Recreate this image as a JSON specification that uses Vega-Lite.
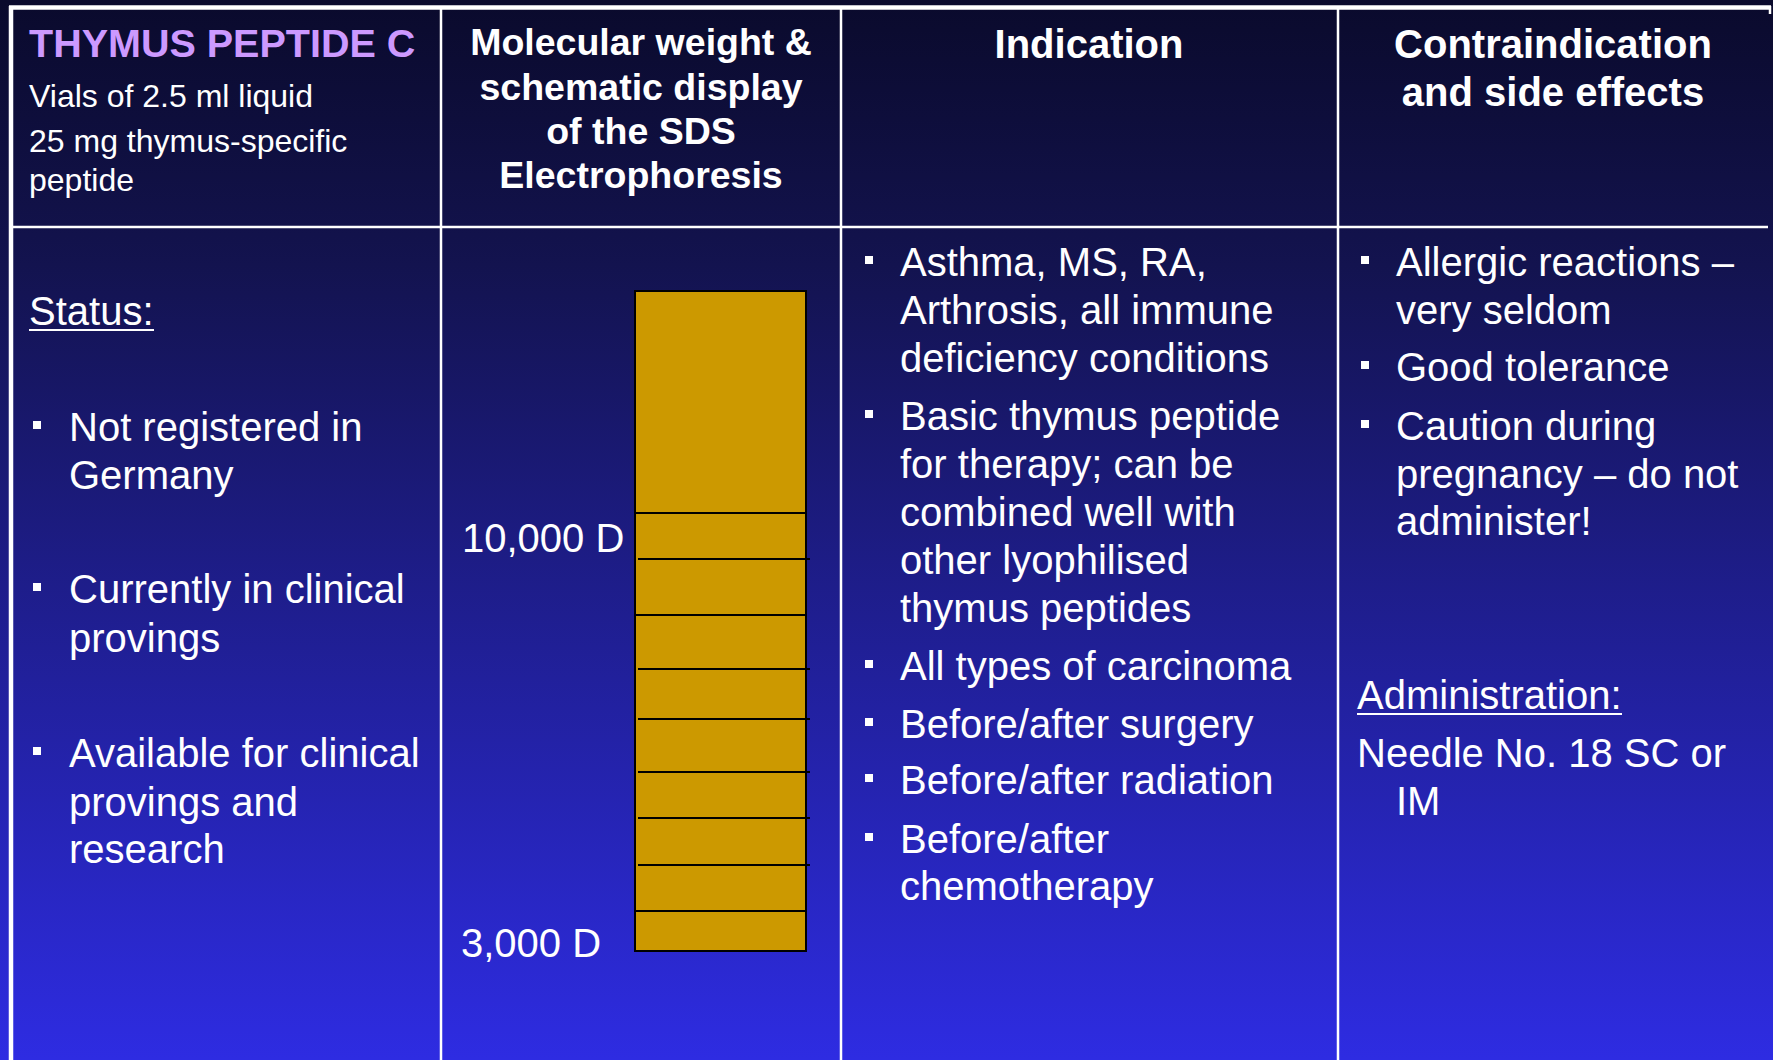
{
  "$schema": "https://vega.github.io/schema/vega-lite/v6.json",
  "width": 1773,
  "height": 1060,
  "padding": 0,
  "autosize": {"type": "none"},
  "background": "#0a0a2c",
  "config": {"view": {"stroke": null}, "text": {"font": "Liberation Sans"}},
  "datasets": {
    "bg": [{"x": 0, "x2": 1773, "y": 0, "y2": 1060}],
    "thick": [
      {"x": 9, "x2": 1771, "y": 7.5, "y2": 7.5},
      {"x": 11, "x2": 11, "y": 6, "y2": 1060}
    ],
    "grid": [
      {"x": 11, "x2": 1768, "y": 227, "y2": 227},
      {"x": 441, "x2": 441, "y": 9, "y2": 1060},
      {"x": 841, "x2": 841, "y": 9, "y2": 1060},
      {"x": 1338, "x2": 1338, "y": 9, "y2": 1060},
      {"x": 1770, "x2": 1770, "y": 6, "y2": 14}
    ],
    "gel": [{"x": 635, "x2": 806, "y": 291, "y2": 951}],
    "bands": [
      {"x": 635, "x2": 806, "y": 513},
      {"x": 638, "x2": 810, "y": 559},
      {"x": 635, "x2": 806, "y": 615},
      {"x": 638, "x2": 810, "y": 669},
      {"x": 638, "x2": 810, "y": 719},
      {"x": 638, "x2": 810, "y": 772},
      {"x": 638, "x2": 810, "y": 818},
      {"x": 638, "x2": 810, "y": 865},
      {"x": 635, "x2": 806, "y": 911}
    ],
    "header2": [
      {"x": 641, "y": 44, "text": "Molecular weight &"},
      {"x": 641, "y": 89, "text": "schematic display"},
      {"x": 641, "y": 133, "text": "of the SDS"},
      {"x": 641, "y": 177, "text": "Electrophoresis"}
    ],
    "header": [
      {"x": 1089, "y": 46, "text": "Indication"},
      {"x": 1553, "y": 46, "text": "Contraindication"},
      {"x": 1553, "y": 94, "text": "and side effects"}
    ],
    "title": [{"x": 29, "y": 45, "text": "THYMUS PEPTIDE C"}],
    "sub": [
      {"x": 29, "y": 97, "text": "Vials of 2.5 ml liquid"},
      {"x": 29, "y": 142, "text": "25 mg thymus-specific"},
      {"x": 29, "y": 181, "text": "peptide"}
    ],
    "body": [
      {"x": 29, "y": 313, "text": "Status:"},
      {"x": 69, "y": 429, "text": "Not registered in"},
      {"x": 69, "y": 477, "text": "Germany"},
      {"x": 69, "y": 591, "text": "Currently in clinical"},
      {"x": 69, "y": 640, "text": "provings"},
      {"x": 69, "y": 755, "text": "Available for clinical"},
      {"x": 69, "y": 804, "text": "provings and"},
      {"x": 69, "y": 851, "text": "research"},
      {"x": 462, "y": 540, "text": "10,000 D"},
      {"x": 461, "y": 945, "text": "3,000 D"},
      {"x": 900, "y": 264, "text": "Asthma, MS, RA,"},
      {"x": 900, "y": 312, "text": "Arthrosis, all immune"},
      {"x": 900, "y": 360, "text": "deficiency conditions"},
      {"x": 900, "y": 418, "text": "Basic thymus peptide"},
      {"x": 900, "y": 466, "text": "for therapy; can be"},
      {"x": 900, "y": 514, "text": "combined well with"},
      {"x": 900, "y": 562, "text": "other lyophilised"},
      {"x": 900, "y": 610, "text": "thymus peptides"},
      {"x": 900, "y": 668, "text": "All types of carcinoma"},
      {"x": 900, "y": 726, "text": "Before/after surgery"},
      {"x": 900, "y": 782, "text": "Before/after radiation"},
      {"x": 900, "y": 841, "text": "Before/after"},
      {"x": 900, "y": 888, "text": "chemotherapy"},
      {"x": 1396, "y": 264, "text": "Allergic reactions –"},
      {"x": 1396, "y": 312, "text": "very seldom"},
      {"x": 1396, "y": 369, "text": "Good tolerance"},
      {"x": 1396, "y": 428, "text": "Caution during"},
      {"x": 1396, "y": 476, "text": "pregnancy – do not"},
      {"x": 1396, "y": 523, "text": "administer!"},
      {"x": 1357, "y": 697, "text": "Administration:"},
      {"x": 1357, "y": 755, "text": "Needle No. 18 SC or"},
      {"x": 1396, "y": 803, "text": "IM"}
    ],
    "bullets": [
      {"x": 37, "y": 425}, {"x": 37, "y": 587}, {"x": 37, "y": 751},
      {"x": 869, "y": 260}, {"x": 869, "y": 414}, {"x": 869, "y": 664},
      {"x": 869, "y": 722}, {"x": 869, "y": 778}, {"x": 869, "y": 837},
      {"x": 1365, "y": 260}, {"x": 1365, "y": 365}, {"x": 1365, "y": 424}
    ],
    "underline": [
      {"x": 29, "x2": 154, "y": 330},
      {"x": 1357, "x2": 1622, "y": 714}
    ]
  },
  "encoding": {
    "x": {"field": "x", "type": "quantitative", "scale": {"domain": [0, 1773], "nice": false, "zero": false}, "axis": null},
    "y": {"field": "y", "type": "quantitative", "scale": {"domain": [0, 1060], "nice": false, "zero": false, "reverse": true}, "axis": null}
  },
  "layer": [
    {
      "data": {"name": "bg"},
      "mark": {"type": "rect", "fill": {"gradient": "linear", "x1": 0, "y1": 0, "x2": 0, "y2": 1, "stops": [{"offset": 0, "color": "#0a0a2c"}, {"offset": 0.25, "color": "#13134f"}, {"offset": 1, "color": "#2e2ce2"}]}},
      "encoding": {"x2": {"field": "x2"}, "y2": {"field": "y2"}}
    },
    {
      "data": {"name": "thick"},
      "mark": {"type": "rule", "color": "white", "strokeWidth": 4.5},
      "encoding": {"x2": {"field": "x2"}, "y2": {"field": "y2"}}
    },
    {
      "data": {"name": "grid"},
      "mark": {"type": "rule", "color": "white", "strokeWidth": 2.5},
      "encoding": {"x2": {"field": "x2"}, "y2": {"field": "y2"}}
    },
    {
      "data": {"name": "gel"},
      "mark": {"type": "rect", "fill": "#cc9900", "stroke": "black", "strokeWidth": 2},
      "encoding": {"x2": {"field": "x2"}, "y2": {"field": "y2"}}
    },
    {
      "data": {"name": "bands"},
      "mark": {"type": "rule", "color": "black", "strokeWidth": 2},
      "encoding": {"x2": {"field": "x2"}}
    },
    {
      "data": {"name": "header2"},
      "mark": {"type": "text", "color": "white", "fontSize": 37.5, "fontWeight": "bold", "align": "center", "baseline": "middle"},
      "encoding": {"text": {"field": "text"}}
    },
    {
      "data": {"name": "header"},
      "mark": {"type": "text", "color": "white", "fontSize": 40, "fontWeight": "bold", "align": "center", "baseline": "middle"},
      "encoding": {"text": {"field": "text"}}
    },
    {
      "data": {"name": "title"},
      "mark": {"type": "text", "color": "#cc99ff", "fontSize": 39.5, "fontWeight": "bold", "align": "left", "baseline": "middle"},
      "encoding": {"text": {"field": "text"}}
    },
    {
      "data": {"name": "sub"},
      "mark": {"type": "text", "color": "white", "fontSize": 32, "align": "left", "baseline": "middle"},
      "encoding": {"text": {"field": "text"}}
    },
    {
      "data": {"name": "body"},
      "mark": {"type": "text", "color": "white", "fontSize": 40, "align": "left", "baseline": "middle"},
      "encoding": {"text": {"field": "text"}}
    },
    {
      "data": {"name": "bullets"},
      "mark": {"type": "point", "shape": "square", "filled": true, "color": "white", "opacity": 1, "size": 64},
      "encoding": {}
    },
    {
      "data": {"name": "underline"},
      "mark": {"type": "rule", "color": "white", "strokeWidth": 2},
      "encoding": {"x2": {"field": "x2"}}
    }
  ]
}
